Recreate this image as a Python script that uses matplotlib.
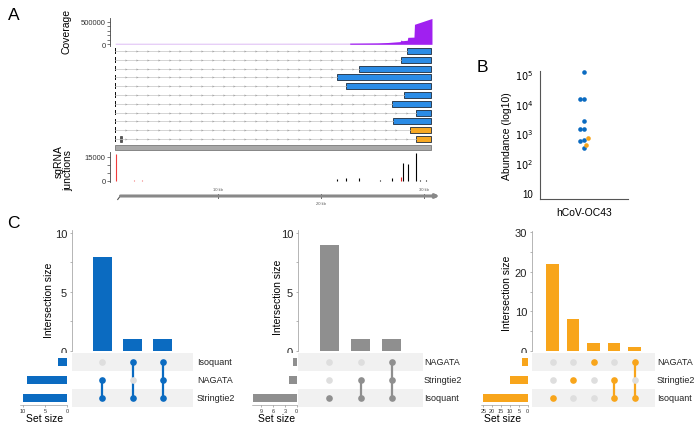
import numpy as np
import matplotlib.pyplot as plt
from matplotlib.patches import Rectangle

plt.rcParams['font.family'] = ['Liberation Sans', 'DejaVu Sans']

W, H = 700, 431

# ---------------- panel A data (genome positions in kb) ----------------
genome_len = 30.7
cov_pos = [0, 5, 10, 15, 20, 22.8, 24, 25.5, 26.5, 27.2, 27.7, 27.8, 27.9, 28.4, 28.45, 29.05, 29.1, 30.8]
cov_val = [25000, 25000, 25000, 26000, 27000, 28000, 30000, 33000, 40000, 52000, 60000, 95000, 80000, 90000,
           155000, 160000, 445000, 575000]
cov_light_until = 22.8

tx_starts = [28.4, 27.8, 23.7, 21.6, 22.4, 28.1, 26.9, 29.2, 27.0, 28.7, 29.2]
tx_colors = ['#2b8ce6'] * 9 + ['#f7a823'] * 2
tx_extra_exon = {10: (0.5, 0.15)}

junc_pos = [0.07, 1.8, 2.6, 21.6, 22.4, 23.7, 25.7, 26.95, 27.8, 28.0, 28.45, 29.2, 29.6, 30.2]
junc_cnt = [17000, 400, 300, 1000, 1400, 2000, 700, 1700, 2500, 11000, 10400, 17300, 500, 400]
junc_col = ['#f03c3c', '#f07070', '#f07070', 'k', 'k', 'k', 'k', 'k', '#e02020', 'k', 'k', 'k', 'k', 'k']

# ---------------- panel B data ----------------
abundance = [115000, 14500, 15000, 2700, 1400, 1450, 560, 600, 320, 720, 420]
abund_group = ['known'] * 9 + ['novel'] * 2
group_color = {'known': '#0b6bc1', 'novel': '#f5a31a'}

# ---------------- panel C data ----------------
up1_sets = ['Isoquant', 'NAGATA', 'Stringtie2']
up1_counts = [8, 1, 1]
up1_members = [[1, 2], [0, 2], [0, 1, 2]]

up2_sets = ['NAGATA', 'Stringtie2', 'Isoquant']
up2_counts = [9, 1, 1]
up2_members = [[2], [1, 2], [0, 1, 2]]

up3_sets = ['NAGATA', 'Stringtie2', 'Isoquant']
up3_counts = [22, 8, 2, 2, 1]
up3_members = [[2], [1], [0], [1, 2], [0, 2]]

fig = plt.figure(figsize=(W / 100, H / 100), dpi=100)


def px_axes(x0, y0, x1, y1):
    return fig.add_axes([x0 / W, 1 - y1 / H, (x1 - x0) / W, (y1 - y0) / H])


def ftext(x, y, s, **kw):
    fig.text(x / W, 1 - y / H, s, **kw)


def gviz_axis(ax, major, minor):
    for s in ['top', 'right', 'bottom']:
        ax.spines[s].set_visible(False)
    ax.spines['left'].set_color('#444444')
    ax.spines['left'].set_linewidth(0.6)
    ax.set_xticks([])
    ax.set_yticks(major)
    ax.set_yticks(minor, minor=True)
    ax.tick_params(axis='y', which='both', length=2, width=0.5, color='#444444',
                   labelsize=5.5, pad=1, labelcolor='#333333')


XL = (-0.5, 30.9)

# coverage
ax_cov = px_axes(110, 19, 433, 47)
pos = np.array(cov_pos)
val = np.array(cov_val)
light = pos <= cov_light_until
ax_cov.fill_between(pos[light], 0, val[light], color='#e2c4f6', lw=0)
ax_cov.fill_between(pos[pos >= cov_light_until], 0, val[pos >= cov_light_until], color='#a020f0', lw=0)
ax_cov.set_xlim(*XL)
ax_cov.set_ylim(-37600, 585000)
gviz_axis(ax_cov, [0, 500000], [100000, 200000, 300000, 400000])
ax_cov.set_yticklabels(['0', '500000'])
ftext(67, 31, 'Coverage', rotation=90, ha='center', va='center', fontsize=7.5)

# transcripts
ax_tx = px_axes(110, 48, 433, 153)
ax_tx.set_xlim(*XL)
ax_tx.set_ylim(11.48, -0.455)
ax_tx.axis('off')
for i, (s, c) in enumerate(zip(tx_starts, tx_colors)):
    ax_tx.plot([0, s], [i, i], color='#c4c4c4', lw=0.5)
    xs = np.arange(1.1, s - 0.3, 1.05)
    ax_tx.plot(xs, [i] * len(xs), ls='none', marker='>', ms=1.5, color='#a8a8a8', mec='none')
    ax_tx.add_patch(Rectangle((0, i - 0.32), 0.08, 0.64, color='#111111', lw=0))
    ax_tx.add_patch(Rectangle((s, i - 0.34), genome_len - s, 0.68, fc=c, ec='#1d2a3a', lw=0.6))
    if i in tx_extra_exon:
        ex0, exw = tx_extra_exon[i]
        ax_tx.add_patch(Rectangle((ex0, i - 0.32), exw, 0.64, fc='#555555', ec='#222222', lw=0.4))
ax_tx.add_patch(Rectangle((0, 11 - 0.3), genome_len, 0.6, fc='#a9a9a9', ec='#7a7a7a', lw=0.6))

# sgRNA junctions
ax_j = px_axes(110, 153, 433, 183)
ax_j.vlines(junc_pos, 0, junc_cnt, colors=junc_col, lw=0.8)
ax_j.set_xlim(*XL)
ax_j.set_ylim(-812, 18060)
gviz_axis(ax_j, [0, 15000], [5000, 10000])
ax_j.set_yticklabels(['0', '15000'])
ftext(59, 162, 'sgRNA', rotation=90, ha='center', va='center', fontsize=7.5)
ftext(68, 171, 'junctions', rotation=90, ha='center', va='center', fontsize=7.5)

# genome axis
ax_g = px_axes(110, 185, 433, 210)
ax_g.set_xlim(*XL)
ax_g.set_ylim(0, 1)
ax_g.axis('off')
ax_g.annotate('', xy=(31.8, 0.52), xytext=(0.25, 0.52),
              arrowprops=dict(arrowstyle='-|>', color='#888888', lw=2.2, mutation_scale=5),
              annotation_clip=False)
ax_g.plot([0.25, 0.5], [0.38, 0.52], color='#555555', lw=0.8, clip_on=False)
for kb, above in [(10, True), (20, False), (30, True)]:
    ax_g.plot([kb, kb], [0.44, 0.62], color='#444444', lw=0.6)
    ax_g.text(kb, 0.8 if above else 0.22, f'{kb} kb', ha='center', va='center', fontsize=3, color='#555555')

# ---------------- panel B ----------------
axB = px_axes(540, 72, 628, 200)
axB.set_yscale('log')
axB.set_xlim(-0.5, 0.5)
axB.set_ylim(10 ** 0.8, 10 ** 5.1)

# simple beeswarm in pixel space: known points first, novel points lean right
px_per_dec = 128 / 4.3
dot_d = 4.3
placed = []
order = sorted(range(len(abundance)), key=lambda k: (abund_group[k] != 'known', -abundance[k]))
for k in order:
    yk = np.log10(abundance[k]) * px_per_dec
    if abund_group[k] == 'known':
        cands = [0, -2.2, 2.2, -4.4, 4.4, -6.6, 6.6]
    else:
        cands = [0, 2.2, 4.4, 6.6, -2.2, -4.4]
    for cx in cands:
        if all((cx - px_) ** 2 + (yk - py_) ** 2 >= (dot_d * 0.85) ** 2 for px_, py_ in placed):
            break
    placed.append((cx, yk))
    axB.plot(cx / 88, abundance[k], 'o', ms=3.3, color=group_color[abund_group[k]], mec='none', clip_on=False)

axB.set_xticks([0])
axB.set_xticklabels(['hCoV-OC43'])
axB.set_yticks([10, 1e2, 1e3, 1e4, 1e5])
axB.set_yticklabels(['10', '$10^2$', '$10^3$', '$10^4$', '$10^5$'])
axB.minorticks_off()
for s in ['top', 'right']:
    axB.spines[s].set_visible(False)
for s in ['left', 'bottom']:
    axB.spines[s].set_color('#555555')
    axB.spines[s].set_linewidth(0.8)
axB.tick_params(axis='both', length=0, labelsize=7, pad=5)
axB.tick_params(axis='x', labelsize=7.5, pad=6)
axB.set_ylabel('Abundance (log10)', fontsize=7.5)
axB.yaxis.set_label_coords(-0.32, 0.5)

# ---------------- panel C ----------------


def upset(sets, counts, members, color, left, right, bar_top, ymax, yticks, yminor,
          ss_zero, ss_ppu, ss_xmax, ss_ticks, ylab_xy, sslab_x, lab_x):
    n = len(counts)
    axb = px_axes(left, bar_top, right, 352)
    axb.bar(range(n), counts, width=0.62, color=color)
    axb.set_xlim(-1, n)
    axb.set_ylim(0, ymax)
    axb.set_xticks([])
    axb.set_yticks(yticks)
    axb.set_yticks(yminor, minor=True)
    for s in ['top', 'right', 'bottom']:
        axb.spines[s].set_visible(False)
    axb.spines['left'].set_color('#999999')
    axb.spines['left'].set_linewidth(0.5)
    axb.tick_params(axis='y', which='both', length=1.5, width=0.5, color='#999999',
                    labelsize=8, pad=2, labelcolor='#222222')
    ftext(ylab_xy[0], ylab_xy[1], 'Intersection size', rotation=90, ha='center', va='center', fontsize=7.5)

    axm = px_axes(left, 354, right, 408)
    axm.set_xlim(-1, n)
    axm.set_ylim(2.5, -0.5)
    axm.axis('off')
    for r in range(len(sets)):
        if r % 2 == 0:
            axm.axhspan(r - 0.5, r + 0.5, color='#f1f1f1', lw=0)
        ftext(lab_x, 363 + 18 * r, sets[r], ha='left', va='center', fontsize=6.5, color='#222222')
    for ci, mem in enumerate(members):
        for r in range(len(sets)):
            axm.plot(ci, r, 'o', ms=4.8, color=color if r in mem else '#dedede', mec='none', zorder=3)
        if len(mem) > 1:
            axm.plot([ci, ci], [min(mem), max(mem)], color=color, lw=1.6, zorder=2)

    sizes = [sum(c for c, m in zip(counts, members) if r in m) for r in range(len(sets))]
    ss_bottom = 406
    axs = px_axes(ss_zero - ss_xmax * ss_ppu, 354, ss_zero, ss_bottom)
    axs.barh(range(len(sets)), sizes, height=0.44, color=color, clip_on=False)
    axs.set_xlim(ss_xmax, 0)
    axs.set_ylim((ss_bottom - 363) / 18, -0.5)
    axs.set_yticks([])
    axs.set_xticks(ss_ticks)
    for s in ['top', 'right', 'left']:
        axs.spines[s].set_visible(False)
    axs.spines['bottom'].set_color('#888888')
    axs.spines['bottom'].set_linewidth(0.4)
    axs.tick_params(axis='x', length=1.5, width=0.4, color='#777777', labelsize=4, pad=0.5,
                    labelcolor='#333333')
    ftext(sslab_x, 419, 'Set size', ha='center', va='center', fontsize=7.5)


upset(up1_sets, up1_counts, up1_members, '#0b6bc1', 72, 193, 231, 10.25, [0, 5, 10], [2.5, 7.5],
      67, 4.4, 10.7, [10, 5, 0], (49, 300), 45, 197)
upset(up2_sets, up2_counts, up2_members, '#8f8f8f', 298, 423, 231, 10.25, [0, 5, 10], [2.5, 7.5],
      296.7, 3.96, 11.3, [9, 6, 3, 0], (278, 297), 277, 424)
upset(up3_sets, up3_counts, up3_members, '#f8a51b', 532, 655, 232, 30.3, [0, 10, 20, 30], [5, 15, 25],
      527.7, 1.776, 26.3, [25, 20, 15, 10, 5, 0], (507, 293), 503, 657)

# panel letters
ftext(13.5, 15, 'A', ha='center', va='center', fontsize=12.5)
ftext(482, 67, 'B', ha='center', va='center', fontsize=12.5)
ftext(13.5, 224, 'C', ha='center', va='center', fontsize=12.5)

fig.savefig('out.png', dpi=100)
